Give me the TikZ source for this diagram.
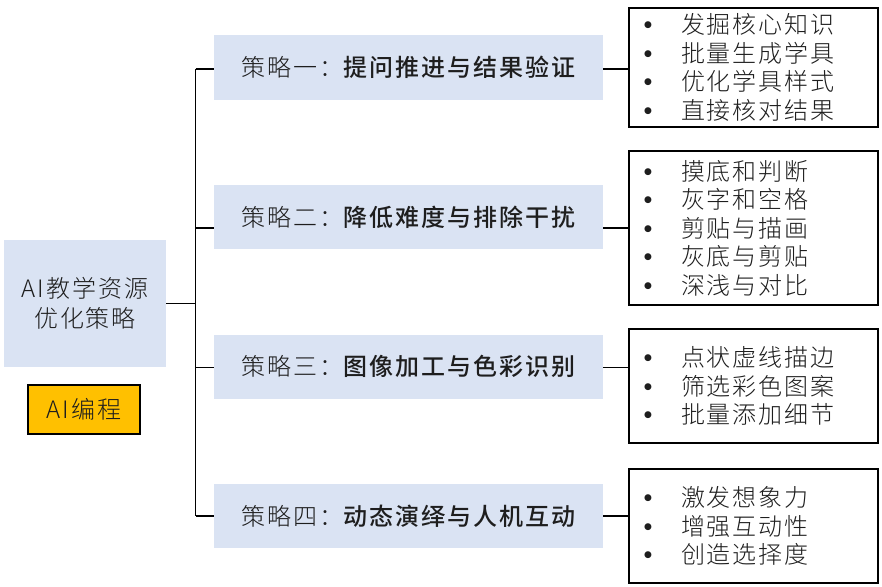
\documentclass[tikz,border=0pt]{standalone}
\usepackage{fontspec}
\setmainfont{Noto Sans CJK SC}
\newfontfamily\cjkl{Noto Sans CJK SC Light}[LetterSpace=8]
\newfontfamily\cjkr{Noto Sans CJK SC Medium}[LetterSpace=8]
\newfontfamily\bulfont{DejaVu Sans}
\definecolor{boxblue}{RGB}{218,227,243}
\definecolor{progyel}{RGB}{255,192,0}
\definecolor{ink}{RGB}{30,30,30}
\begin{document}
\begin{tikzpicture}[x=1pt,y=-1pt,
  mainbox/.style={fill=boxblue, minimum width=162pt, minimum height=127pt, inner sep=0pt, align=center, text=ink, font=\cjkl\fontsize{24}{30}\selectfont},
  stratbox/.style={fill=boxblue, minimum width=389pt, minimum height=64pt, inner sep=0pt, text=ink, font=\fontsize{24}{30}\selectfont},
  progbox/.style={fill=progyel, draw=black, line width=1.2pt, minimum width=112pt, minimum height=49pt, inner sep=0pt, text=ink, font=\cjkl\fontsize{24}{30}\selectfont},
  listbox/.style={draw=black, line width=1.2pt, text width=219pt, inner xsep=15pt, inner ysep=0pt, align=left, text=ink, font=\cjkl\fontsize{24}{28.5}\selectfont},
  link/.style={line width=1.2pt, black}]
\useasboundingbox (0,0) rectangle (882,586);
\newcommand{\itm}[1]{\makebox[37pt][l]{\raisebox{6pt}{\bulfont\fontsize{9}{9}\selectfont ●}}#1}

\node[mainbox] (main) at (85,303.5) {AI教学资源\\优化策略};
\node[progbox] (prog) at (84,409.5) {AI编程};

\node[stratbox] (s1) at (408.5,67.5) {{\cjkl 策略一：}{\cjkr 提问推进与结果验证}};
\node[stratbox] (s2) at (408.5,217) {{\cjkl 策略二：}{\cjkr 降低难度与排除干扰}};
\node[stratbox] (s3) at (408.5,366.5) {{\cjkl 策略三：}{\cjkr 图像加工与色彩识别}};
\node[stratbox] (s4) at (408.5,516) {{\cjkl 策略四：}{\cjkr 动态演绎与人机互动}};

\node[listbox, minimum height=119pt] (l1) at (753.5,67.5) {\itm{发掘核心知识}\\\itm{批量生成学具}\\\itm{优化学具样式}\\\itm{直接核对结果}};
\node[listbox, minimum height=154pt] (l2) at (753.5,228) {\itm{摸底和判断}\\\itm{灰字和空格}\\\itm{剪贴与描画}\\\itm{灰底与剪贴}\\\itm{深浅与对比}};
\node[listbox, minimum height=114pt] (l3) at (753.5,386) {\itm{点状虚线描边}\\\itm{筛选彩色图案}\\\itm{批量添加细节}};
\node[listbox, minimum height=114pt] (l4) at (753.5,526) {\itm{激发想象力}\\\itm{增强互动性}\\\itm{创造选择度}};

\coordinate (t1) at (195.5,69);
\coordinate (t2) at (195.5,228);
\coordinate (t3) at (195.5,367.5);
\coordinate (t4) at (195.5,516);

\draw[link] (t1) -- (t4);
\draw[link] (main.east) -- (main.east -| t1);
\draw[link] (t1) -- (s1.west |- t1);
\draw[link] (t2) -- (s2.west |- t2);
\draw[link] (t3) -- (s3.west |- t3);
\draw[link] (t4) -- (s4.west |- t4);
\draw[link] (s1.east |- t1) -- (l1.west |- t1);
\draw[link] (s2.east |- t2) -- (l2.west |- t2);
\draw[link] (s3.east |- t3) -- (l3.west |- t3);
\draw[link] (s4.east |- t4) -- (l4.west |- t4);
\end{tikzpicture}
\end{document}
